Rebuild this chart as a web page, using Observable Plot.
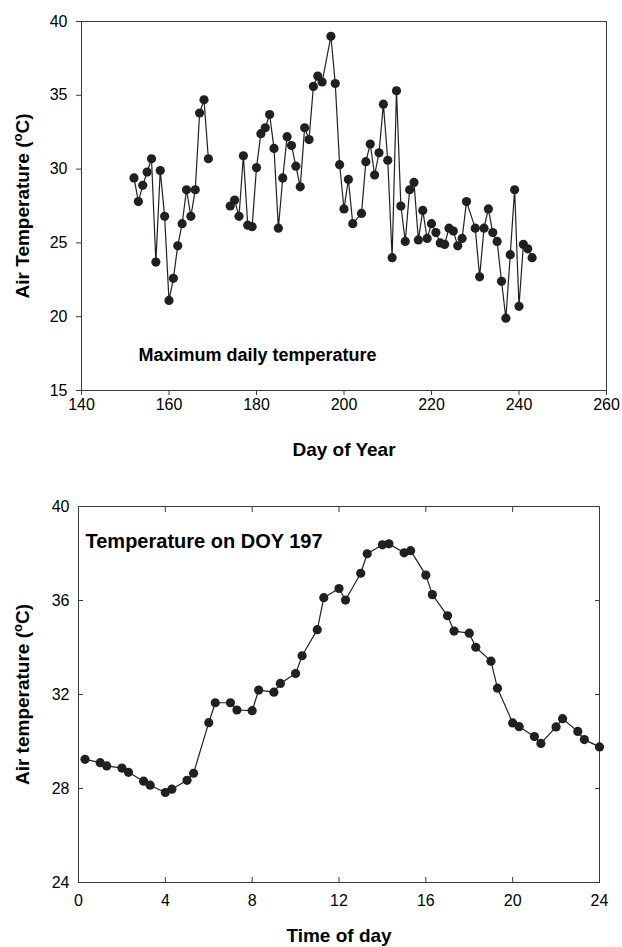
<!DOCTYPE html>
<html>
<head>
<meta charset="utf-8">
<script src="https://cdn.jsdelivr.net/npm/d3@7"></script>
<script src="https://cdn.jsdelivr.net/npm/@observablehq/plot@0.6"></script>
<style>
html, body { margin: 0; padding: 0; background: #fff; }
#chart { width: 622px; height: 947px; overflow: hidden; }
#chart svg { display: block; }
</style>
</head>
<body>
<div id="chart"></div>
<script>
const FONT = '"Liberation Sans", Arial, Helvetica, sans-serif';

// ---- Top panel: maximum daily temperature ----
const maxDays = [
  152,153,154,155,156,157,158,159,160,161,162,163,164,165,166,167,168,169,
  174,175,176,177,178,179,180,181,182,183,184,185,186,187,188,189,190,191,192,193,194,195,
  197,198,199,200,201,202,
  204,205,206,207,208,209,210,211,212,213,214,215,216,217,218,219,220,221,222,223,224,225,226,227,228,
  230,231,232,233,234,235,236,237,238,239,240,241,242,243
];
const maxTemps = [
  29.4,27.8,28.9,29.8,30.7,23.7,29.9,26.8,21.1,22.6,24.8,26.3,28.6,26.8,28.6,33.8,34.7,30.7,
  27.5,27.9,26.8,30.9,26.2,26.1,30.1,32.4,32.8,33.7,31.4,26.0,29.4,32.2,31.6,30.2,28.8,32.8,32.0,35.6,36.3,35.9,
  39.0,35.8,30.3,27.3,29.3,26.3,
  27.0,30.5,31.7,29.6,31.1,34.4,30.6,24.0,35.3,27.5,25.1,28.6,29.1,25.2,27.2,25.3,26.3,25.7,25.0,24.9,26.0,25.8,24.8,25.3,27.8,
  26.0,22.7,26.0,27.3,25.7,25.1,22.4,19.9,24.2,28.6,20.7,24.9,24.6,24.0
];
const dayTicks = [140, 160, 180, 200, 220, 240, 260];
const maxTempTicks = [15, 20, 25, 30, 35, 40];
const dayDomain = [140, 260];
const maxTempDomain = [15, 40];

// ---- Bottom panel: temperature on DOY 197 ----
const hours = [
  0.3, 1, 1.3, 2, 2.3, 3, 3.3, 4, 4.3, 5, 5.3, 6, 6.3, 7, 7.3, 8, 8.3, 9, 9.3, 10, 10.3, 11, 11.3, 12,
  12.3, 13, 13.3, 14, 14.3, 15, 15.3, 16, 16.3, 17, 17.3, 18, 18.3, 19, 19.3, 20, 20.3, 21, 21.3, 22, 22.3, 23, 23.3, 24
];
const hourTemps = [
  29.24, 29.10, 28.96, 28.87, 28.69, 28.31, 28.14, 27.83, 27.97, 28.35, 28.65, 30.80, 31.65, 31.65, 31.34, 31.31,
  32.19, 32.10, 32.47, 32.89, 33.65, 34.76, 36.12, 36.51, 36.02, 37.16, 37.99, 38.37, 38.41, 38.03, 38.12, 37.08,
  36.25, 35.35, 34.70, 34.61, 34.01, 33.42, 32.27, 30.79, 30.63, 30.21, 29.92, 30.62, 30.97, 30.43, 30.08, 29.77
];
const hourTicks = [0, 4, 8, 12, 16, 20, 24];
const hourTempTicks = [24, 28, 32, 36, 40];
const hourDomain = [0, 24];
const hourTempDomain = [24, 40];

// split the daily series into runs where there is a long gap in days
let run = 0;
const daily = maxDays.map((d, i) => {
  if (i > 0 && d - maxDays[i - 1] > 3) run++;
  return {day: d, temp: maxTemps[i], run};
});
const hourly = hours.map((h, i) => ({hour: h, temp: hourTemps[i]}));

const INK = "#231f20";
const AXIS = "#3a3a3a";
const baseStyle = {fontFamily: FONT, fontSize: "16px", color: "#000", background: "#fff", overflow: "visible"};

const p1 = Plot.plot({
  width: 622,
  height: 470,
  marginTop: 21,
  marginBottom: 80,
  marginLeft: 81,
  marginRight: 16,
  style: baseStyle,
  x: {domain: dayDomain, ticks: dayTicks, tickSize: 5, tickPadding: 3,
      label: "Day of Year", labelAnchor: "center", labelArrow: "none", labelOffset: 65},
  y: {domain: maxTempDomain, ticks: maxTempTicks, tickSize: 5, tickPadding: 9,
      label: "Air Temperature (oC)", labelAnchor: "center", labelArrow: "none", labelOffset: 66},
  marks: [
    Plot.frame({stroke: AXIS}),
    Plot.line(daily, {x: "day", y: "temp", z: "run", stroke: INK, strokeWidth: 1.2}),
    Plot.dot(daily, {x: "day", y: "temp", r: 4.6, fill: INK, stroke: "none"}),
    Plot.text(["Maximum daily temperature"], {text: d => d, frameAnchor: "bottom-left", dx: 57, dy: -35,
      textAnchor: "start", lineAnchor: "middle", fontWeight: "bold", fontSize: 18, fill: "#000"})
  ]
});

const blank = () => "";
const p2 = Plot.plot({
  width: 622,
  height: 477,
  marginTop: 36,
  marginBottom: 65,
  marginLeft: 78,
  marginRight: 23,
  style: baseStyle,
  x: {domain: hourDomain},
  y: {domain: hourTempDomain},
  marks: [
    Plot.frame({stroke: AXIS}),
    Plot.axisX(hourTicks, {anchor: "bottom", tickSize: 0, tickPadding: 12,
      label: "Time of day", labelAnchor: "center", labelArrow: "none", labelOffset: 59}),
    Plot.axisX(hourTicks, {anchor: "bottom", tickSize: 5, dy: -5, tickFormat: blank, label: null, stroke: AXIS}),
    Plot.axisX(hourTicks, {anchor: "top", tickSize: 5, dy: 5, tickFormat: blank, label: null, stroke: AXIS}),
    Plot.axisY(hourTempTicks, {anchor: "left", tickSize: 0, tickPadding: 9,
      label: "Air temperature (oC)", labelAnchor: "center", labelArrow: "none", labelOffset: 63}),
    Plot.axisY(hourTempTicks, {anchor: "left", tickSize: 5, dx: 5, tickFormat: blank, label: null, stroke: AXIS}),
    Plot.axisY(hourTempTicks, {anchor: "right", tickSize: 5, dx: -5, tickFormat: blank, label: null, stroke: AXIS}),
    Plot.line(hourly, {x: "hour", y: "temp", stroke: INK, strokeWidth: 1.2}),
    Plot.dot(hourly, {x: "hour", y: "temp", r: 4.6, fill: INK, stroke: "none"}),
    Plot.text(["Temperature on DOY 197"], {text: d => d, frameAnchor: "top-left", dx: 7, dy: 35,
      textAnchor: "start", lineAnchor: "middle", fontWeight: "bold", fontSize: 20, fill: "#000"})
  ]
});

const NS = "http://www.w3.org/2000/svg";
function polish(svg) {
  svg.querySelectorAll('g[aria-label$="axis label"]').forEach(g => {
    g.setAttribute("font-weight", "bold");
    g.setAttribute("font-size", "19");
    g.querySelectorAll("text").forEach(t => {
      t.setAttribute("font-weight", "bold");
      t.setAttribute("font-size", "19");
      const s = t.textContent;
      if (s.includes("(oC)")) {
        const [a, b] = s.split("(oC)");
        t.textContent = "";
        const t1 = document.createElementNS(NS, "tspan");
        t1.textContent = a + "(";
        const t2 = document.createElementNS(NS, "tspan");
        t2.textContent = "o";
        t2.setAttribute("font-size", "13");
        t2.setAttribute("dy", "-7");
        const t3 = document.createElementNS(NS, "tspan");
        t3.textContent = "C)" + b;
        t3.setAttribute("dy", "7");
        t.append(t1, t2, t3);
      }
    });
  });
  svg.querySelectorAll('g[aria-label$="axis tick"]').forEach(g => g.setAttribute("stroke", AXIS));
}
polish(p1);
polish(p2);
const root = document.getElementById("chart");
root.append(p1, p2);
</script>
</body>
</html>
